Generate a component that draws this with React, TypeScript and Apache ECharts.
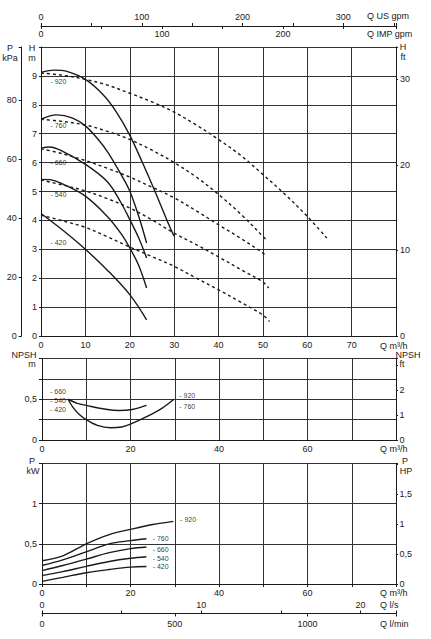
import { useEffect, useRef } from "react";
import * as echarts from "echarts";

const FONT = "Liberation Sans, Arial, sans-serif";
const INK = "#1a1a1a";

const models = ["920", "760", "660", "540", "420"];

// head curves, solid [Q m3/h, H m]
const head920 = [[0, 9.12], [3, 9.2], [6, 9.15], [10, 8.88], [14, 8.35], [17, 7.75], [20, 6.95], [23, 5.95], [25.7, 5.0], [28.4, 4.0], [30, 3.45]];
const head760 = [[0, 7.5], [3.5, 7.65], [7, 7.55], [10, 7.27], [12.9, 6.8], [15, 6.37], [18, 5.6], [20, 5.02], [22, 4.15], [23.8, 3.22]];
const head660 = [[0, 6.5], [2, 6.54], [5, 6.38], [10, 5.94], [15, 5.33], [18, 4.62], [20, 4.03], [22, 3.4], [23.8, 2.7]];
const head540 = [[0, 5.42], [2, 5.41], [5, 5.25], [10, 4.84], [15, 4.13], [18, 3.55], [20, 3.05], [22, 2.45], [23.8, 1.66]];
const head420 = [[0, 4.24], [5, 3.65], [10, 3.0], [15, 2.27], [20, 1.43], [23.8, 0.56]];

// head curves, dashed
const dash920 = [[0, 9.1], [5, 9.02], [10, 8.88], [15, 8.68], [20, 8.4], [25, 8.1], [30, 7.75], [35, 7.3], [40, 6.8], [45, 6.25], [50, 5.59], [55, 4.9], [60, 4.14], [64.4, 3.39]];
const dash760 = [[0, 7.5], [5, 7.42], [10, 7.3], [15, 7.08], [20, 6.8], [25, 6.43], [30, 6.0], [35, 5.5], [40, 4.9], [45, 4.22], [50, 3.45], [51.1, 3.28]];
const dash660 = [[0, 6.48], [5, 6.3], [10, 6.07], [15, 5.8], [20, 5.5], [25, 5.15], [30, 4.78], [35, 4.33], [40, 3.85], [45, 3.38], [50, 2.87], [50.8, 2.75]];
const dash540 = [[0, 5.4], [5, 5.22], [10, 5.02], [15, 4.75], [20, 4.43], [25, 4.02], [30, 3.56], [35, 3.16], [40, 2.74], [45, 2.3], [50, 1.87], [51.3, 1.66]];
const dash420 = [[0, 4.18], [5, 3.98], [10, 3.76], [15, 3.43], [20, 3.08], [25, 2.75], [30, 2.41], [35, 2.0], [40, 1.6], [45, 1.17], [50, 0.73], [51.5, 0.5]];

// NPSH [Q, m]
const npshSmall = [[5.9, 0.5], [8, 0.45], [10, 0.425], [14.4, 0.377], [17.4, 0.362], [20.4, 0.375], [23.6, 0.425]]; // 660, 540, 420
const npshLarge = [[5.9, 0.5], [7, 0.4], [8.5, 0.31], [10, 0.25], [12.5, 0.18], [15.5, 0.15], [18, 0.16], [20, 0.195], [24, 0.295], [27, 0.385], [29.8, 0.5]]; // 920, 760

// power [Q, kW]
const pow920 = [[0, 0.29], [4.7, 0.35], [10, 0.5], [15.2, 0.615], [20, 0.68], [25, 0.74], [29.7, 0.78]];
const pow760 = [[0, 0.23], [4.7, 0.3], [10, 0.4], [15.2, 0.5], [20, 0.54], [23.6, 0.563]];
const pow660 = [[0, 0.167], [4.7, 0.23], [10, 0.31], [15.2, 0.39], [20, 0.44], [23.6, 0.46]];
const pow540 = [[0, 0.104], [4.7, 0.154], [10, 0.22], [15.2, 0.28], [20, 0.32], [23.6, 0.34]];
const pow420 = [[0, 0.033], [4.7, 0.083], [10, 0.14], [15.2, 0.18], [20, 0.21], [23.6, 0.217]];

// curve name tags
const headTagQ = 2.0;
const headTagH = [8.8, 7.27, 6.02, 4.9, 3.22];
const npshTagsLeft = [["660", 1.7, 0.6], ["540", 1.7, 0.49], ["420", 1.7, 0.377]];
const npshTagsRight = [["920", 30.9, 0.55], ["760", 30.9, 0.41]];
const powTags = [["920", 31.1, 0.807], ["760", 24.9, 0.568], ["660", 24.9, 0.435], ["540", 24.9, 0.32], ["420", 24.9, 0.215]];

// unit conversions of the flow axis (max 80 m3/h)
const Q_MAX = 80;
const US_GPM = Q_MAX / 0.227125;
const IMP_GPM = Q_MAX / 0.272765;
const L_S = Q_MAX / 3.6;
const L_MIN = (Q_MAX * 1000) / 60;

const comma = (v: number) => String(v).replace(".", ",");
const near = (v: number, step: number) => Math.abs(v / step - Math.round(v / step)) < 1e-6;

const labelStyle = { color: INK, fontSize: 9, fontFamily: FONT };

function axis(extra: any) {
  return {
    type: "value",
    axisLine: { show: true, onZero: false, lineStyle: { color: INK, width: 1 } },
    axisTick: { show: true, length: 3, lineStyle: { color: INK } },
    splitLine: { show: false },
    ...extra,
    axisLabel: { ...labelStyle, ...(extra.axisLabel || {}) },
  };
}

const grid = { show: true, lineStyle: { color: "#333", width: 1 } };

function line(data: number[][], x: number, y: number, dashed = false) {
  return {
    type: "line",
    xAxisIndex: x,
    yAxisIndex: y,
    data,
    smooth: 0.35,
    showSymbol: false,
    silent: true,
    lineStyle: { color: INK, width: 1.4, type: dashed ? [3, 3] : "solid" },
  };
}

function tags(list: any[], x: number, y: number) {
  return {
    type: "scatter",
    xAxisIndex: x,
    yAxisIndex: y,
    symbolSize: 1,
    itemStyle: { color: "transparent" },
    silent: true,
    data: list.map(([name, q, v]) => ({ name, value: [q, v] })),
    label: {
      show: true, position: "right", distance: 0, formatter: "- {b}",
      color: "#000", fontSize: 7, fontFamily: FONT, textBorderWidth: 0,
    },
  };
}

function txt(text: string, x: number, y: number, align = "center") {
  return { type: "text", x, y, style: { text, fill: INK, font: `9px ${FONT}`, textAlign: align, textVerticalAlign: "middle" } };
}

export default function App() {
  const ref = useRef<HTMLDivElement>(null);

  useEffect(() => {
    if (!ref.current) return;
    const chart = echarts.init(ref.current, undefined, { renderer: "svg" });

    const headTags = models.map((m, i) => [m, headTagQ, headTagH[i]]);

    chart.setOption({
      animation: false,
      backgroundColor: "#fff",
      grid: [
        { left: 41, right: 35, top: 47, height: 289, outerBoundsMode: "none" },
        { left: 42, right: 35, top: 358.5, height: 81.5, outerBoundsMode: "none" },
        { left: 42, right: 35, top: 463.5, height: 120.5, outerBoundsMode: "none" },
      ],
      xAxis: [
        axis({ gridIndex: 0, min: 0, max: Q_MAX, interval: 10, position: "bottom", axisTick: { show: false }, splitLine: grid,
          axisLabel: { margin: 4.5, formatter: (v: number) => (v < Q_MAX ? String(v) : "") } }),
        axis({ gridIndex: 0, min: 0, max: US_GPM, interval: 50, position: "top", offset: 21,
          axisLabel: { margin: 5, formatter: (v: number) => (near(v, 100) && v <= 300 ? String(v) : "") } }),
        axis({ gridIndex: 0, min: 0, max: IMP_GPM, interval: 50, position: "top", offset: 21,
          axisLine: { show: false, onZero: false }, axisTick: { show: true, inside: true, length: 3, lineStyle: { color: INK } },
          axisLabel: { inside: true, margin: 3.5, formatter: (v: number) => (near(v, 100) ? String(v) : "") } }),
        axis({ gridIndex: 1, min: 0, max: Q_MAX, interval: 10, position: "bottom", axisTick: { show: false }, splitLine: grid,
          axisLabel: { margin: 4, formatter: (v: number) => (near(v, 20) && v < Q_MAX ? String(v) : "") } }),
        axis({ gridIndex: 2, min: 0, max: Q_MAX, interval: 10, position: "bottom", axisTick: { show: true, length: 3, lineStyle: { color: INK } }, splitLine: grid,
          axisLabel: { margin: 4, formatter: (v: number) => (near(v, 20) && v < Q_MAX ? String(v) : "") } }),
        axis({ gridIndex: 2, min: 0, max: L_S, interval: 5, position: "bottom", offset: 29.5,
          axisTick: { show: true, inside: true, length: 3, lineStyle: { color: INK } },
          axisLabel: { inside: true, margin: 4, formatter: (v: number) => (near(v, 10) && v <= 20 ? String(v) : "") } }),
        axis({ gridIndex: 2, min: 0, max: L_MIN, interval: 500, position: "bottom", offset: 29.5,
          axisLine: { show: false, onZero: false },
          axisLabel: { margin: 6, formatter: (v: number) => (near(v, 500) ? String(v) : "") } }),
      ],
      yAxis: [
        axis({ gridIndex: 0, min: 0, max: 10, interval: 1, position: "left", splitLine: grid, axisTick: { show: true, length: 2, lineStyle: { color: INK } },
          axisLabel: { margin: 4, formatter: (v: number) => (v < 10 ? String(v) : "") } }),
        axis({ gridIndex: 0, min: 0, max: 98, interval: 20, position: "left", offset: 19.3,
          axisLabel: { margin: 5, formatter: (v: number) => (near(v, 20) ? String(v) : "") } }),
        axis({ gridIndex: 0, min: 0, max: 33.8, interval: 10, position: "right", axisTick: { show: true, length: 2, lineStyle: { color: INK } },
          axisLabel: { margin: 4, formatter: (v: number) => (near(v, 10) ? String(v) : "") } }),
        axis({ gridIndex: 1, min: 0, max: 1, interval: 0.25, position: "left", splitLine: grid,
          axisLabel: { margin: 5, formatter: (v: number) => (v === 0 || v === 0.5 ? comma(v) : "") } }),
        axis({ gridIndex: 1, min: 0, max: 3.28, interval: 1, position: "right", axisTick: { show: true, length: 2, lineStyle: { color: INK } },
          axisLabel: { margin: 3.5, formatter: (v: number) => (near(v, 1) && v <= 2 ? String(v) : "") } }),
        axis({ gridIndex: 2, min: 0, max: 1.5, interval: 0.5, position: "left", splitLine: grid,
          axisLabel: { margin: 5, formatter: (v: number) => (v < 1.5 ? comma(v) : "") } }),
        axis({ gridIndex: 2, min: 0, max: 2.01, interval: 0.5, position: "right", axisTick: { show: true, length: 2, lineStyle: { color: INK } },
          axisLabel: { margin: 3.5, formatter: (v: number) => (near(v, 0.5) && v <= 1.5 ? comma(v) : "") } }),
      ],
      series: [
        ...[head920, head760, head660, head540, head420].map((d) => line(d, 0, 0)),
        ...[dash920, dash760, dash660, dash540, dash420].map((d) => line(d, 0, 0, true)),
        line(npshSmall, 3, 3),
        line(npshLarge, 3, 3),
        ...[pow920, pow760, pow660, pow540, pow420].map((d) => line(d, 4, 5)),
        tags(headTags, 0, 0),
        tags(npshTagsLeft, 3, 3),
        tags(npshTagsRight, 3, 3),
        tags(powTags, 4, 5),
      ],
      graphic: [
        txt("P", 10, 48), txt("kPa", 10, 58),
        txt("H", 32, 48), txt("m", 32, 58),
        txt("H", 403, 47), txt("ft", 403, 57),
        txt("Q US gpm", 367, 16, "left"),
        txt("Q IMP gpm", 367, 34, "left"),
        txt("Q m³/h", 380, 346, "left"),
        txt("NPSH", 24, 355), txt("m", 32, 364),
        txt("NPSH", 408, 355), txt("ft", 402, 364),
        txt("Q m³/h", 380, 449, "left"),
        txt("P", 32, 461), txt("kW", 33, 471),
        txt("P", 405, 461), txt("HP", 406, 471),
        txt("Q m³/h", 380, 593, "left"),
        txt("Q l/s", 380, 605, "left"),
        txt("Q l/min", 380, 624, "left"),
      ],
    });

    return () => chart.dispose();
  }, []);

  return <div ref={ref} style={{ position: "absolute", left: 0, top: 0, width: 431, height: 639 }} />;
}
